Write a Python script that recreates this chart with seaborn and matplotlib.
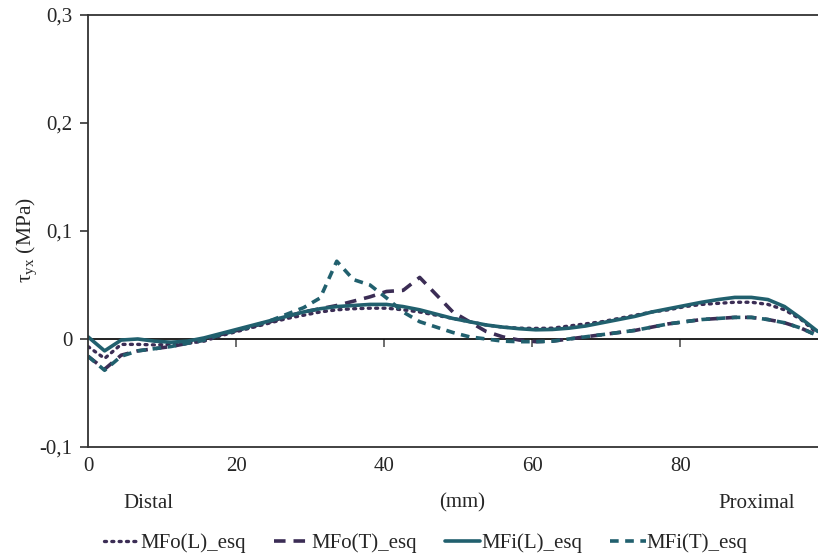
import numpy as np
import pandas as pd
import matplotlib
matplotlib.use("Agg")
import matplotlib.pyplot as plt
import seaborn as sns

# Position along the bone (mm), distal -> proximal
x_mm = [0, 2.24, 4.48, 6.72, 8.96, 11.2, 13.44, 15.68, 17.92, 20.16,
        22.4, 24.64, 26.88, 29.12, 31.36, 33.6, 35.84, 38.08, 40.32, 42.56,
        44.8, 47.04, 49.28, 51.52, 53.76, 56.0, 58.24, 60.48, 62.72, 64.96,
        67.2, 69.44, 71.68, 73.92, 76.16, 78.4, 80.64, 82.88, 85.12, 87.36,
        89.6, 91.84, 94.08, 96.32, 98.56]

# Shear stress tau_yx (MPa)
mfo_l = [-0.007, -0.018, -0.005, -0.005, -0.0055, -0.005, -0.004, -0.002, 0.003, 0.007,
         0.011, 0.015, 0.019, 0.022, 0.025, 0.027, 0.028, 0.0285, 0.0285, 0.027,
         0.025, 0.022, 0.019, 0.016, 0.013, 0.011, 0.010, 0.0098, 0.010, 0.012,
         0.014, 0.016, 0.019, 0.022, 0.025, 0.027, 0.030, 0.032, 0.033, 0.034,
         0.034, 0.032, 0.027, 0.018, 0.005]

mfo_t = [-0.016, -0.028, -0.015, -0.011, -0.009, -0.007, -0.004, -0.001, 0.004, 0.008,
         0.012, 0.016, 0.021, 0.025, 0.028, 0.031, 0.035, 0.039, 0.044, 0.045,
         0.057, 0.041, 0.025, 0.016, 0.007, 0.002, -0.001, -0.0025, -0.002, 0.000,
         0.002, 0.004, 0.006, 0.008, 0.011, 0.014, 0.016, 0.018, 0.019, 0.020,
         0.020, 0.018, 0.015, 0.010, 0.003]

mfi_l = [0.002, -0.011, -0.001, 0.000, -0.002, -0.003, -0.002, 0.001, 0.005, 0.009,
         0.013, 0.017, 0.021, 0.025, 0.028, 0.030, 0.031, 0.032, 0.032, 0.030,
         0.027, 0.023, 0.019, 0.016, 0.013, 0.011, 0.0095, 0.0085, 0.0088, 0.010,
         0.012, 0.015, 0.018, 0.021, 0.025, 0.028, 0.031, 0.034, 0.0365, 0.0385,
         0.0385, 0.0365, 0.030, 0.019, 0.007]

mfi_t = [-0.016, -0.029, -0.016, -0.011, -0.009, -0.007, -0.004, -0.001, 0.004, 0.008,
         0.012, 0.017, 0.023, 0.029, 0.038, 0.072, 0.055, 0.050, 0.038, 0.025,
         0.016, 0.011, 0.006, 0.002, 0.000, -0.002, -0.0025, -0.0025, -0.002, 0.000,
         0.002, 0.004, 0.006, 0.008, 0.011, 0.014, 0.016, 0.018, 0.019, 0.020,
         0.020, 0.018, 0.015, 0.010, 0.003]

series_names = ["MFo(L)_esq", "MFo(T)_esq", "MFi(L)_esq", "MFi(T)_esq"]
y_ticks = [-0.1, 0, 0.1, 0.2, 0.3]
y_ticklabels = ["-0,1", "0", "0,1", "0,2", "0,3"]
x_ticks = [0, 20, 40, 60, 80]

sns.set_theme(style="white")
plt.rcParams["font.family"] = ["Liberation Serif", "DejaVu Serif"]
plt.rcParams["mathtext.fontset"] = "custom"
plt.rcParams["mathtext.rm"] = "Liberation Serif"

PURPLE = "#3b2d55"
TEAL = "#21606e"
FS = 15

fig = plt.figure(figsize=(8.18, 5.59), dpi=100)
ax = fig.add_axes([0.1076, 0.2004, 0.8924, 0.7728])

styles = [
    dict(color=PURPLE, linestyle=(0, (0.6, 1.6)), linewidth=2.4, dash_capstyle="round"),
    dict(color=PURPLE, linestyle=(0, (3.2, 2.2)), linewidth=2.6),
    dict(color=TEAL, linestyle="-", linewidth=2.6),
    dict(color=TEAL, linestyle=(0, (2.4, 1.8)), linewidth=2.6),
]
data = [mfo_l, mfo_t, mfi_l, mfi_t]

for name, vals, st in zip(series_names, data, styles):
    df = pd.DataFrame({"x": x_mm, "y": vals})
    sns.lineplot(data=df, x="x", y="y", ax=ax, label=name, **st)

ax.set_xlim(0, 98.6)
ax.set_ylim(-0.1, 0.3)
ax.set_xlabel("")
ax.set_ylabel("")

# frame: left axis, top and bottom border lines
for side in ["left", "top", "bottom"]:
    ax.spines[side].set_visible(True)
    ax.spines[side].set_color("#333333")
    ax.spines[side].set_linewidth(1.3)
ax.spines["right"].set_visible(False)

ax.set_yticks(y_ticks)
ax.set_yticklabels(y_ticklabels)
ax.tick_params(axis="y", direction="out", length=6, width=1.2, color="#333333",
               labelsize=FS, pad=5, left=True)

# x tick labels along the bottom border, tick marks along the zero line
ax.set_xticks(x_ticks)
ax.set_xticklabels([str(v) for v in x_ticks])
ax.tick_params(axis="x", length=0, labelsize=FS, pad=7)

zero_axis = ax.secondary_xaxis(0.25)
zero_axis.set_xticks([20, 40, 60, 80])
zero_axis.set_xticklabels([])
zero_axis.tick_params(axis="x", direction="out", length=6, width=1.2, color="#555555")
zero_axis.spines["bottom"].set_color("#111111")
zero_axis.spines["bottom"].set_linewidth(1.3)

ax.text((27 - 88) / 730, 0.48, "τ$_{\\mathrm{yx}}$ (MPa)", transform=ax.transAxes,
        rotation=90, ha="center", va="center", fontsize=FS + 0.5)

fig.text(148 / 818, 1 - 503 / 559, "Distal", ha="center", va="center", fontsize=FS)
fig.text(462 / 818, 1 - 503 / 559, "(mm)", ha="center", va="center", fontsize=FS)
fig.text(757 / 818, 1 - 503 / 559, "Proximal", ha="center", va="center", fontsize=FS)

handles, labels = ax.get_legend_handles_labels()
ax.legend(handles, labels, loc="center", bbox_to_anchor=(426 / 818, 1 - 543 / 559),
          bbox_transform=fig.transFigure, ncol=4, frameon=False, fontsize=FS,
          handlelength=1.7, handletextpad=0.05, columnspacing=1.35)

fig.savefig("out.png", dpi=100)
